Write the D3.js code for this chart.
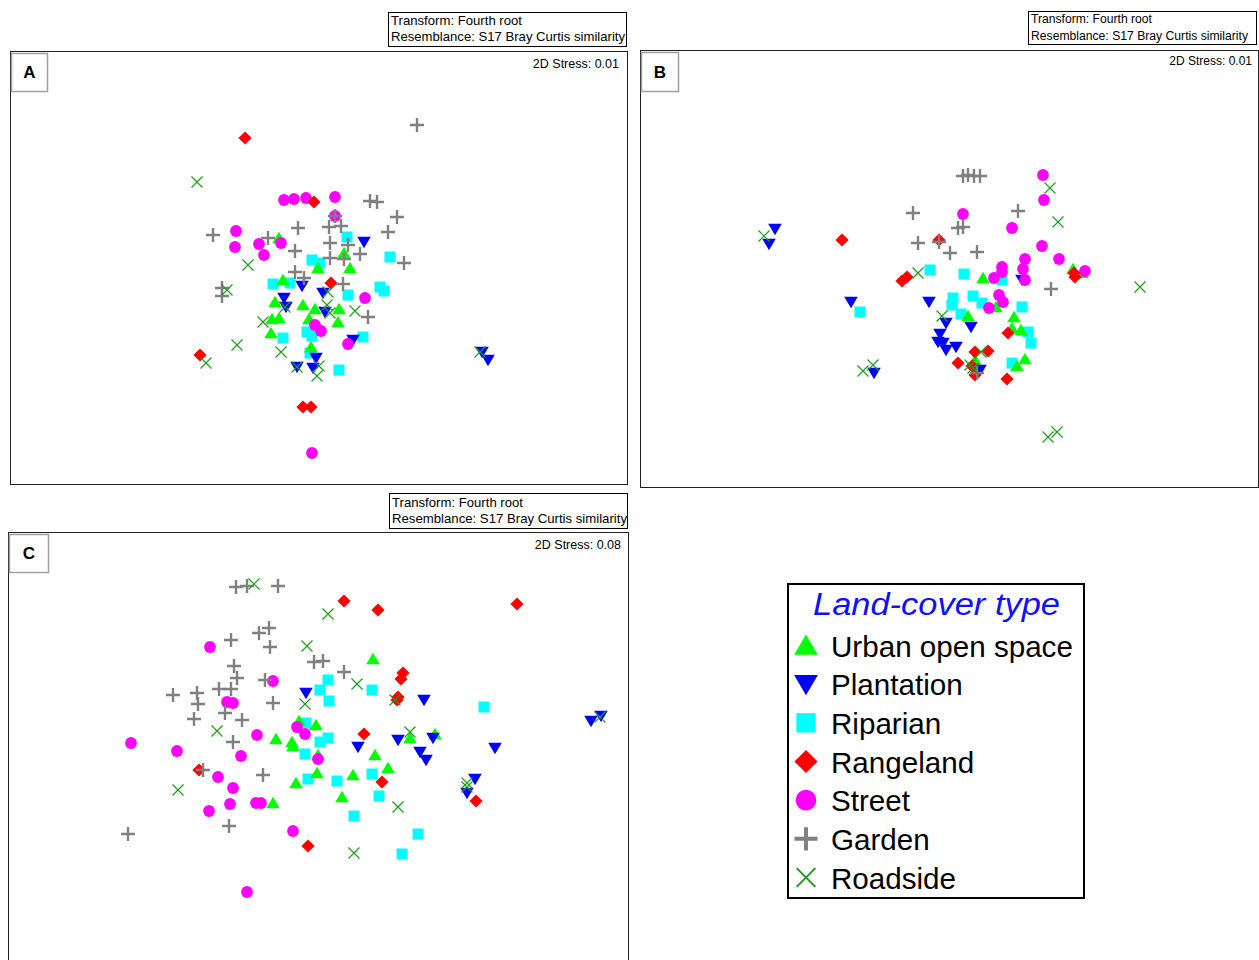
<!DOCTYPE html>
<html>
<head>
<meta charset="utf-8">
<script src="https://cdn.jsdelivr.net/npm/d3@7"></script>
<style>
  body { margin: 0; background: #fff; }
  svg { display: block; }
  text { font-family: Arial, "Liberation Sans", sans-serif; }
</style>
</head>
<body>
<svg id="chart" width="1259" height="960"></svg>
<script>
// ---- Land-cover groups ----
const landCover = ["Urban open space", "Plantation", "Riparian", "Rangeland", "Street", "Garden", "Roadside"];
const panelIds = ["A", "B", "C"];
const stressValues = ["0.01", "0.01", "0.08"];
const headerLines = ["Transform: Fourth root", "Resemblance: S17 Bray Curtis similarity"];

// ---- NMDS ordination scores (axis 1, axis 2) ----
// Panel A
const A_urban = [[-0.41,0.32],[0.24,0.17],[0.30,0.02],[-0.02,0.02],[-0.37,-0.10],[-0.45,-0.32],[-0.17,-0.35],[-0.05,-0.39],[0.19,-0.39],[-0.48,-0.49],[-0.41,-0.48],[-0.11,-0.49],[0.18,-0.52],[-0.49,-0.63],[-0.09,-0.77]];
const A_plantation = [[0.44,0.28],[-0.18,-0.16],[-0.36,-0.28],[-0.34,-0.37],[0.03,-0.23],[0.05,-0.42],[0.33,-0.70],[-0.23,-0.97],[-0.07,-0.98],[-0.04,-0.88],[1.62,-0.82],[1.68,-0.90]];
const A_riparian = [[0.27,0.33],[-0.08,0.10],[0.00,0.07],[0.70,0.13],[-0.47,-0.14],[-0.30,-0.13],[0.28,-0.25],[0.60,-0.17],[0.64,-0.21],[-0.13,-0.62],[-0.08,-0.66],[-0.37,-0.68],[0.43,-0.67],[-0.10,-0.83],[0.19,-1.00]];
const A_rangeland = [[-0.75,1.32],[-0.06,0.68],[0.11,-0.13],[-1.20,-0.85],[-0.17,-1.37],[-0.09,-1.37]];
const A_street = [[-0.36,0.70],[-0.26,0.71],[-0.14,0.72],[0.15,0.73],[0.15,0.54],[-0.84,0.39],[-0.85,0.23],[-0.61,0.26],[-0.56,0.15],[-0.39,0.27],[0.45,-0.28],[-0.05,-0.55],[0.01,-0.61],[0.28,-0.74],[-0.08,-1.83]];
const A_garden = [[0.97,1.45],[0.50,0.69],[0.57,0.68],[0.77,0.53],[0.68,0.38],[-1.07,0.35],[-0.22,0.42],[0.09,0.43],[0.21,0.44],[-0.52,0.32],[-0.25,0.19],[0.10,0.27],[0.28,0.25],[0.40,0.16],[0.10,0.12],[0.24,0.11],[0.84,0.07],[-0.25,-0.02],[-0.16,-0.08],[0.23,-0.14],[0.48,-0.47],[-0.98,-0.18],[-0.98,-0.26],[0.15,0.54]];
const A_roadside = [[-1.23,0.88],[-0.72,0.05],[-0.93,-0.20],[-0.57,-0.52],[-0.35,-0.37],[0.08,-0.22],[0.07,-0.35],[0.10,-0.43],[0.35,-0.41],[-0.83,-0.75],[-0.39,-0.82],[-1.14,-0.93],[-0.23,-0.97],[-0.01,-0.96],[-0.03,-1.06],[1.60,-0.82]];

// Panel B
const B_urban = [[0.33,-0.08],[1.23,0.01],[1.32,-0.03],[0.46,-0.37],[0.18,-0.46],[0.64,-0.47],[0.62,-0.58],[0.71,-0.60],[0.75,-0.89],[0.67,-0.96],[0.25,-0.90]];
const B_plantation = [[-1.75,0.41],[-1.81,0.26],[-0.99,-0.32],[-0.21,-0.32],[0.72,-0.10],[-0.04,-0.53],[0.21,-0.57],[-0.10,-0.64],[-0.12,-0.72],[-0.07,-0.73],[-0.04,-0.80],[0.06,-0.77],[0.30,-1.00],[-0.76,-1.03]];
const B_riparian = [[-0.90,-0.42],[-0.20,0.00],[0.14,-0.04],[0.52,-0.10],[0.03,-0.28],[0.02,-0.35],[0.23,-0.26],[0.32,-0.33],[0.11,-0.44],[0.72,-0.37],[0.78,-0.62],[0.81,-0.73],[0.62,-0.93]];
const B_rangeland = [[-1.08,0.30],[-0.11,0.30],[-0.48,-0.11],[-0.43,-0.07],[1.24,-0.03],[1.25,-0.07],[0.58,-0.63],[0.25,-0.82],[0.38,-0.81],[0.08,-0.93],[0.22,-0.96],[0.25,-1.05],[0.57,-1.09]];
const B_street = [[0.93,0.95],[0.94,0.70],[0.13,0.56],[0.62,0.42],[0.92,0.24],[0.75,0.11],[1.09,0.11],[0.52,0.03],[0.52,-0.02],[0.73,0.01],[0.44,-0.08],[0.75,-0.10],[1.35,-0.01],[0.49,-0.25],[0.53,-0.32],[0.39,-0.38]];
const B_garden = [[0.13,0.94],[0.18,0.95],[0.24,0.94],[0.30,0.94],[-0.37,0.57],[0.68,0.59],[0.08,0.42],[0.13,0.43],[-0.32,0.27],[-0.11,0.28],[0.00,0.17],[0.27,0.18],[1.01,-0.19],[0.27,-1.03]];
const B_roadside = [[-1.86,0.34],[1.00,0.82],[1.08,0.48],[-0.32,-0.03],[1.90,-0.17],[-0.08,-0.46],[0.31,-0.82],[0.20,-0.95],[0.23,-0.98],[-0.87,-1.01],[-0.77,-0.95],[0.98,-1.67],[1.07,-1.62]];

// Panel C
const C_urban = [[0.53,0.91],[-0.21,0.29],[-0.04,0.25],[-0.44,0.11],[-0.28,0.08],[-0.27,0.04],[-0.02,-0.05],[-0.03,-0.23],[-0.24,-0.33],[0.22,-0.47],[-0.47,-0.53],[0.55,-0.05],[0.68,-0.18],[0.33,-0.25],[0.90,0.12],[1.15,0.16]];
const C_plantation = [[-0.14,0.57],[1.04,0.50],[0.38,0.03],[0.78,0.10],[1.13,0.12],[1.00,-0.02],[1.06,-0.10],[1.75,0.02],[2.71,0.29],[2.81,0.34],[1.55,-0.29],[1.47,-0.43]];
const C_riparian = [[0.08,0.70],[0.00,0.60],[0.09,0.49],[0.52,0.60],[-0.14,0.27],[0.08,0.12],[0.00,0.08],[-0.15,-0.04],[-0.12,-0.29],[0.17,-0.31],[1.64,0.43],[0.52,-0.24],[0.59,-0.46],[0.34,-0.66],[0.98,-0.84],[0.82,-1.04]];
const C_rangeland = [[0.24,1.49],[0.58,1.40],[1.97,1.46],[0.83,0.77],[0.81,0.71],[0.77,0.50],[0.78,0.53],[0.44,0.16],[-1.21,-0.20],[0.62,-0.32],[1.56,-0.51],[-0.12,-0.96]];
const C_street = [[-1.10,1.03],[-0.47,0.69],[-0.93,0.48],[-0.87,0.47],[-1.89,0.07],[-1.43,-0.01],[-0.79,-0.06],[-0.63,0.15],[-0.23,0.23],[-0.15,0.16],[-0.02,-0.09],[-1.02,-0.27],[-0.87,-0.38],[-0.90,-0.54],[-1.11,-0.61],[-0.64,-0.53],[-0.59,-0.53],[-0.27,-0.81],[-0.73,-1.42]];
const C_garden = [[-0.84,1.63],[-0.73,1.64],[-0.42,1.64],[-0.51,1.22],[-0.61,1.17],[-0.89,1.10],[-0.50,1.03],[-0.06,0.88],[0.03,0.89],[0.24,0.78],[-0.86,0.84],[-0.83,0.72],[-0.55,0.70],[-1.01,0.61],[-0.89,0.61],[-1.47,0.55],[-1.23,0.57],[-1.22,0.46],[-0.47,0.47],[-0.95,0.37],[-1.26,0.31],[-0.78,0.30],[-0.87,0.08],[-1.17,-0.20],[-0.57,-0.25],[-0.91,-0.76],[-1.92,-0.84]];
const C_roadside = [[-0.66,1.66],[0.08,1.36],[-0.13,1.04],[-0.15,0.46],[0.37,0.66],[0.75,0.50],[0.90,0.18],[-1.03,0.19],[-1.42,-0.40],[0.78,-0.57],[0.34,-1.03],[1.47,-0.37],[1.47,-0.33],[2.80,0.33]];

// ---- Styling ----
const colors = ["#00ff00", "#0000ff", "#00ffff", "#ff0000", "#ff00ff", "#808080", "#1f9b1f"];
const shapes = ["triUp", "triDown", "square", "diamond", "circle", "plus", "cross"];
// drawing order inside a panel (index into landCover)
const drawOrder = [2, 0, 1, 4, 3, 5, 6];

const panelSeries = {
  A: [A_urban, A_plantation, A_riparian, A_rangeland, A_street, A_garden, A_roadside],
  B: [B_urban, B_plantation, B_riparian, B_rangeland, B_street, B_garden, B_roadside],
  C: [C_urban, C_plantation, C_riparian, C_rangeland, C_street, C_garden, C_roadside]
};

// panel frames, axis extents and annotation boxes
const layout = {
  A: { x0: 10, x1: 627, y0: 51, y1: 484, xd: [-3.10, 3.07], yd: [-2.14, 2.19],
       hdr: { x0: 388, x1: 626, y0: 12, y1: 46, fs: 13, w1: 131, w2: 234, b1: 25, b2: 41 },
       lab: { x0: 11, y0: 53, w: 36, h: 38 }, stress: { x: 619, y: 68, fs: 12.5, w: 89 } },
  B: { x0: 640, x1: 1258, y0: 50, y1: 487, xd: [-3.10, 3.08], yd: [-2.17, 2.20],
       hdr: { x0: 1028, x1: 1256, y0: 11, y1: 44, fs: 12, w1: 121, w2: 217, b1: 23, b2: 40 },
       lab: { x0: 641, y0: 52, w: 37, h: 39 }, stress: { x: 1252, y: 65, fs: 12, w: 84 } },
  C: { x0: 8, x1: 628, y0: 532, y1: 970, xd: [-3.12, 3.08], yd: [-2.20, 2.18],
       hdr: { x0: 389, x1: 627, y0: 493, y1: 528, fs: 13, w1: 131, w2: 235, b1: 507, b2: 523 },
       lab: { x0: 9, y0: 534, w: 39, h: 38 }, stress: { x: 621, y: 549, fs: 12.5, w: 90 } }
};

const svg = d3.select("#chart");

// marker path generator (k = scale factor)
function drawMarker(g, shape, color, k) {
  if (shape === "triUp") {
    g.append("path").attr("d", `M0,${-6.3*k}L${6.8*k},${5.3*k}L${-6.8*k},${5.3*k}Z`).attr("fill", color);
  } else if (shape === "triDown") {
    g.append("path").attr("d", `M${-6.8*k},${-5.3*k}L${6.8*k},${-5.3*k}L0,${6.3*k}Z`).attr("fill", color);
  } else if (shape === "square") {
    g.append("rect").attr("x", -5.5*k).attr("y", -5.5*k).attr("width", 11*k).attr("height", 11*k).attr("fill", color);
  } else if (shape === "diamond") {
    g.append("path").attr("d", `M0,${-6.6*k}L${6.6*k},0L0,${6.6*k}L${-6.6*k},0Z`).attr("fill", color);
  } else if (shape === "circle") {
    g.append("circle").attr("r", 5.9*k).attr("fill", color);
  } else if (shape === "plus") {
    g.append("path").attr("d", `M${-7*k},0H${7*k}M0,${-7*k}V${7*k}`)
      .attr("stroke", color).attr("stroke-width", 2.4*k).attr("fill", "none");
  } else if (shape === "cross") {
    g.append("path").attr("d", `M${-5.5*k},${-5.5*k}L${5.5*k},${5.5*k}M${5.5*k},${-5.5*k}L${-5.5*k},${5.5*k}`)
      .attr("stroke", color).attr("stroke-width", 1.2*k).attr("fill", "none");
  }
}

panelIds.forEach((id, pi) => {
  const L = layout[id];
  const x = d3.scaleLinear().domain(L.xd).range([L.x0, L.x1]);
  const y = d3.scaleLinear().domain(L.yd).range([L.y1, L.y0]);

  // header box with transform / resemblance notes
  const h = L.hdr;
  svg.append("rect").attr("x", h.x0 + 0.5).attr("y", h.y0 + 0.5)
    .attr("width", h.x1 - h.x0).attr("height", h.y1 - h.y0)
    .attr("fill", "#fff").attr("stroke", "#000").attr("stroke-width", 1);
  svg.append("text").attr("x", h.x0 + 3).attr("y", h.b1).attr("font-size", h.fs)
    .attr("textLength", h.w1).attr("lengthAdjust", "spacingAndGlyphs").text(headerLines[0]);
  svg.append("text").attr("x", h.x0 + 3).attr("y", h.b2).attr("font-size", h.fs)
    .attr("textLength", h.w2).attr("lengthAdjust", "spacingAndGlyphs").text(headerLines[1]);

  // plot frame
  svg.append("rect").attr("x", L.x0 + 0.5).attr("y", L.y0 + 0.5)
    .attr("width", L.x1 - L.x0).attr("height", L.y1 - L.y0)
    .attr("fill", "#fff").attr("stroke", "#222").attr("stroke-width", 1);

  // panel letter
  const lb = L.lab;
  svg.append("rect").attr("x", lb.x0 + 0.5).attr("y", lb.y0 + 0.5).attr("width", lb.w).attr("height", lb.h)
    .attr("fill", "#fff").attr("stroke", "#a0a0a0").attr("stroke-width", 1.5);
  svg.append("text").attr("x", lb.x0 + lb.w / 2 + 0.5).attr("y", lb.y0 + lb.h / 2 + 6)
    .attr("text-anchor", "middle").attr("font-size", 17).attr("font-weight", "bold").text(id);

  // stress annotation
  svg.append("text").attr("x", L.stress.x).attr("y", L.stress.y).attr("text-anchor", "end")
    .attr("font-size", L.stress.fs).text("2D Stress: " + stressValues[pi]);

  // sample points
  const g = svg.append("g");
  drawOrder.forEach(gi => {
    panelSeries[id][gi].forEach(d => {
      const m = g.append("g").attr("transform", `translate(${x(d[0])},${y(d[1])})`);
      drawMarker(m, shapes[gi], colors[gi], 1);
    });
  });
});

// ---- Legend ----
const leg = svg.append("g");
leg.append("rect").attr("x", 788).attr("y", 584).attr("width", 296).attr("height", 314)
  .attr("fill", "#fff").attr("stroke", "#000").attr("stroke-width", 2);
leg.append("text").attr("x", 813).attr("y", 615).attr("font-size", 31).attr("font-style", "italic")
  .attr("fill", "#1010ff").attr("textLength", 247).attr("lengthAdjust", "spacingAndGlyphs")
  .text("Land-cover type");
const legY = d3.scaleLinear().domain([0, landCover.length - 1]).range([645.5, 877.5]);
landCover.forEach((name, i) => {
  const m = leg.append("g").attr("transform", `translate(806,${legY(i)})`);
  drawMarker(m, shapes[i], colors[i], i === 6 ? 1.7 : (i === 5 ? 1.65 : 1.75));
  leg.append("text").attr("x", 831).attr("y", legY(i) + 11).attr("font-size", 29.6).text(name);
});
</script>
</body>
</html>
